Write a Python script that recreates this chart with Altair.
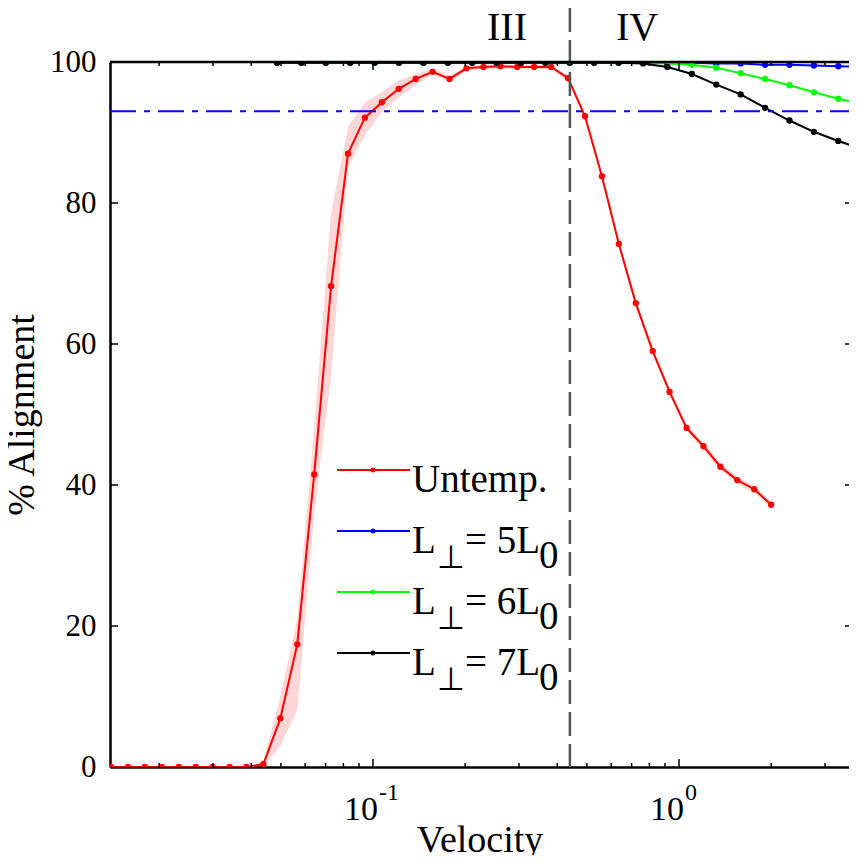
import altair as alt
import pandas as pd

FONT = "Liberation Serif"
W, H = 739, 705

# ---------------- data ----------------
untemp_v = [0.01393, 0.01582, 0.01797, 0.02041, 0.02318, 0.02634, 0.02991, 0.03398,
            0.0386, 0.04384, 0.0498, 0.05656, 0.06424, 0.07295, 0.08287, 0.0941,
            0.1069, 0.1214, 0.1379, 0.1566, 0.1779, 0.202, 0.2295, 0.2606, 0.296,
            0.3363, 0.3821, 0.4339, 0.4929, 0.5598, 0.6358, 0.7222, 0.8203, 0.9316,
            1.058, 1.202, 1.365, 1.55, 1.761, 2.0]
untemp_pct = [0, 0, 0, 0, 0, 0, 0, 0, 0, 0.4, 6.9, 17.4, 41.5, 68.2, 87.0, 92.1,
              94.3, 96.2, 97.6, 98.6, 97.6, 99.1, 99.3, 99.4, 99.3, 99.3, 99.3, 97.7,
              92.3, 83.8, 74.2, 65.8, 59.0, 53.2, 48.1, 45.5, 42.6, 40.7, 39.4, 37.2]
untemp_lo = [0, 0, 0, 0, 0, 0, 0, 0, 0, 0, 3.0, 8.0, 36.0, 55.5, 85.0, 89.6,
             92.9, 95.0, 96.7, 98.2, 97.2, 98.8, 99.0, 99.1, 99.0, 99.0, 99.0, 97.3,
             91.8, 83.3, 73.7, 65.3, 58.5, 52.7, 47.6, 45.0, 42.1, 40.2, 38.9, 36.7]
untemp_hi = [0, 0, 0, 0, 0, 0, 0, 0, 0, 0.8, 10.0, 21.0, 48.0, 78.6, 90.8, 94.3,
             95.7, 97.4, 98.3, 99.1, 98.0, 99.4, 99.6, 99.7, 99.6, 99.6, 99.6, 98.1,
             92.8, 84.3, 74.7, 66.3, 59.5, 53.7, 48.6, 46.0, 43.1, 41.2, 39.9, 37.7]

temp_v = [0.04856, 0.05834, 0.07011, 0.08424, 0.1012, 0.1216, 0.1461, 0.1756,
          0.211, 0.2535, 0.3046, 0.366, 0.4396, 0.5283, 0.6348, 0.7628, 0.9166,
          1.1013, 1.3235, 1.5903, 1.9108, 2.296, 2.7589, 3.3149, 3.982]
l5_pct = [99.9, 99.9, 99.9, 99.9, 99.9, 99.9, 99.9, 99.9, 99.9, 99.9, 99.9, 99.9,
          99.9, 99.9, 99.9, 99.9, 99.9, 99.9, 99.8, 99.8, 99.6, 99.6, 99.5, 99.4, 99.3]
l6_pct = [99.9, 99.9, 99.9, 99.9, 99.9, 99.9, 99.9, 99.9, 99.9, 99.9, 99.9, 99.9,
          99.9, 99.9, 99.9, 99.9, 99.8, 99.6, 99.2, 98.4, 97.6, 96.7, 95.7, 94.8, 94.0]
l7_pct = [99.9, 99.9, 99.9, 99.9, 99.9, 99.9, 99.9, 99.9, 99.9, 99.9, 99.9, 99.9,
          99.9, 99.9, 99.9, 99.8, 99.3, 98.3, 96.8, 95.4, 93.5, 91.7, 90.1, 88.8, 87.6]

threshold = [93]
regime_boundary = [0.44]
y_ticks = [0, 20, 40, 60, 80, 100]
y_inner_ticks = [20, 40, 60, 80]
x_major = [0.1, 1]
x_major_exp = ["-1", "0"]
x_minor = [0.02, 0.03, 0.04, 0.05, 0.06, 0.07, 0.08, 0.09,
           0.2, 0.3, 0.4, 0.5, 0.6, 0.7, 0.8, 0.9, 2, 3]
x_domain = [0.01382, 3.593]

series_names = ["Untemp.", "5", "6", "7"]
series_colors = ["#ff0000", "#0000ff", "#00ff00", "#000000"]

# ---------------- scales / axes ----------------
xs = alt.Scale(type="log", domain=x_domain, nice=False)
ys = alt.Scale(domain=[0, 100], nice=False, zero=False)

x_axis = alt.Axis(title="Velocity", labels=False, ticks=False, grid=False,
                  domainColor="black", domainWidth=2.5,
                  titleFont=FONT, titleFontSize=38, titleFontWeight="normal",
                  titleColor="black", titlePadding=54)
y_axis = alt.Axis(title="% Alignment", values=y_ticks, ticks=False, grid=False,
                  domainColor="black", domainWidth=2.5,
                  labelFont=FONT, labelFontSize=31, labelColor="black", labelPadding=14,
                  titleFont=FONT, titleFontSize=38, titleFontWeight="normal",
                  titleColor="black", titlePadding=8)

df_red = pd.DataFrame({"v": untemp_v, "p": untemp_pct, "lo": untemp_lo, "hi": untemp_hi})

band = alt.Chart(df_red).mark_area(color="#ff0000", opacity=0.16, clip=True).encode(
    x=alt.X("v:Q", scale=xs, axis=x_axis),
    y=alt.Y("lo:Q", scale=ys, axis=y_axis),
    y2="hi:Q",
)


def series(xv, yv, color):
    df = pd.DataFrame({"v": xv, "p": yv})
    return alt.Chart(df).mark_line(
        color=color, strokeWidth=2, clip=True,
        point=alt.OverlayMarkDef(color=color, filled=True, size=40, opacity=1, clip=True),
    ).encode(x=alt.X("v:Q", scale=xs), y=alt.Y("p:Q", scale=ys))


red_line = series(untemp_v, untemp_pct, series_colors[0])
blue_line = series(temp_v, l5_pct, series_colors[1])
green_line = series(temp_v, l6_pct, series_colors[2])
black_line = series(temp_v, l7_pct, series_colors[3])

thr = alt.Chart(pd.DataFrame({"t": threshold})).mark_rule(
    color="#0000ff", strokeWidth=2, strokeDash=[26, 8, 6, 8]
).encode(y=alt.Y("t:Q", scale=ys), x=alt.value(0), x2=alt.value(W))

vline = alt.Chart(pd.DataFrame({"v": regime_boundary})).mark_rule(
    color="#555555", strokeWidth=2.5, strokeDash=[24, 8]
).encode(x=alt.X("v:Q", scale=xs), y=alt.value(-54), y2=alt.value(H))

top_border = alt.Chart(pd.DataFrame({"a": [0]})).mark_rule(
    color="black", strokeWidth=2.5
).encode(x=alt.value(0), x2=alt.value(W), y=alt.value(0))

df_xmaj = pd.DataFrame({"v": x_major, "b": ["10", "10"], "e": x_major_exp})
df_xmin = pd.DataFrame({"v": x_minor})
df_yt = pd.DataFrame({"t": y_inner_ticks})

tick_layers = [
    alt.Chart(df_xmaj).mark_rule(color="black", strokeWidth=1.5).encode(
        x=alt.X("v:Q", scale=xs), y=alt.value(H), y2=alt.value(H - 8)),
    alt.Chart(df_xmaj).mark_rule(color="black", strokeWidth=1.5).encode(
        x=alt.X("v:Q", scale=xs), y=alt.value(0), y2=alt.value(8)),
    alt.Chart(df_xmin).mark_rule(color="black", strokeWidth=1.5).encode(
        x=alt.X("v:Q", scale=xs), y=alt.value(H), y2=alt.value(H - 4)),
    alt.Chart(df_xmin).mark_rule(color="black", strokeWidth=1.5).encode(
        x=alt.X("v:Q", scale=xs), y=alt.value(0), y2=alt.value(4)),
    alt.Chart(df_yt).mark_rule(color="black", strokeWidth=1.5).encode(
        y=alt.Y("t:Q", scale=ys), x=alt.value(0), x2=alt.value(8)),
    alt.Chart(df_yt).mark_rule(color="black", strokeWidth=1.5).encode(
        y=alt.Y("t:Q", scale=ys), x=alt.value(W - 4), x2=alt.value(W)),
]

xlab_base = alt.Chart(df_xmaj).mark_text(
    font=FONT, fontSize=34, align="right", baseline="alphabetic", dx=5, color="black"
).encode(x=alt.X("v:Q", scale=xs), y=alt.value(H + 53), text="b:N")
xlab_exp = alt.Chart(df_xmaj).mark_text(
    font=FONT, fontSize=24, align="left", baseline="alphabetic", dx=6, color="black"
).encode(x=alt.X("v:Q", scale=xs), y=alt.value(H + 33), text="e:N")

regime_labels = [
    alt.Chart(pd.DataFrame({"s": ["III"]})).mark_text(
        font=FONT, fontSize=40, align="center", baseline="alphabetic", color="black"
    ).encode(x=alt.value(397), y=alt.value(-22), text="s:N"),
    alt.Chart(pd.DataFrame({"s": ["IV"]})).mark_text(
        font=FONT, fontSize=40, align="center", baseline="alphabetic", color="black"
    ).encode(x=alt.value(527), y=alt.value(-22), text="s:N"),
]

# ---------------- manual legend ----------------
legend_layers = []
row_y = [408, 469, 530, 591]
for name, color, ry in zip(series_names, series_colors, row_y):
    one = pd.DataFrame({"a": [0]})
    legend_layers.append(alt.Chart(one).mark_rule(color=color, strokeWidth=2).encode(
        x=alt.value(227), x2=alt.value(300), y=alt.value(ry)))
    legend_layers.append(alt.Chart(one).mark_point(
        color=color, filled=True, size=25, opacity=1).encode(
        x=alt.value(263), y=alt.value(ry)))
    if name == "Untemp.":
        pieces = [(name, 302, 22, 39)]
    else:
        pieces = [("L", 302, 22, 39), ("\u22a5", 327, 37, 32),
                  ("= " + name + "L", 355, 22, 39), ("0", 429, 37, 39)]
    for txt, px, dy, fs in pieces:
        legend_layers.append(alt.Chart(pd.DataFrame({"s": [txt]})).mark_text(
            font=FONT, fontSize=fs, align="left", baseline="alphabetic", color="black"
        ).encode(x=alt.value(px), y=alt.value(ry + dy), text="s:N"))

chart = alt.layer(
    band, red_line, blue_line, green_line, black_line, thr, vline, top_border,
    *tick_layers, xlab_base, xlab_exp, *regime_labels, *legend_layers
).properties(
    width=W, height=H,
    padding={"left": 102, "top": 54, "right": 0, "bottom": 88},
    autosize=alt.AutoSizeParams(type="none"),
).configure_view(stroke=None)

chart.save("out.html", embed_options={"renderer": "svg", "actions": False})
